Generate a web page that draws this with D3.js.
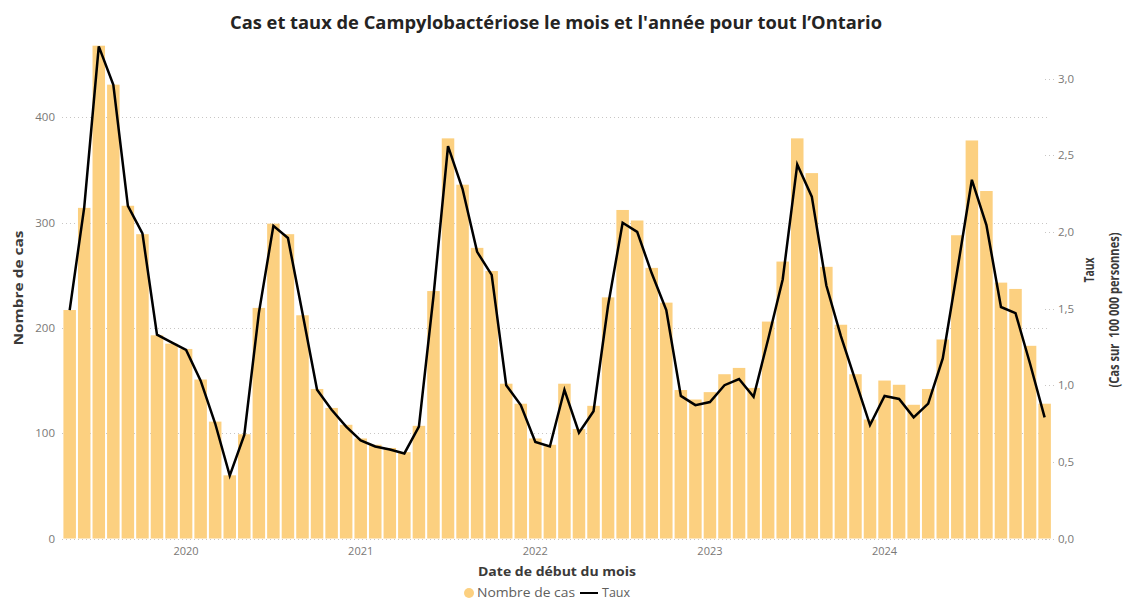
<!DOCTYPE html>
<html><head><meta charset="utf-8">
<script src="https://cdn.jsdelivr.net/npm/d3@7"></script>
<style>
body{margin:0;background:#fff;}
text{font-family:"Open Sans","Noto Sans",sans-serif;}
</style>
</head><body>
<svg id="chart" width="1124" height="601"></svg>
<script>
// ---- Data ----
const firstMonth = new Date(2019, 4, 1);   // May 2019
const endMonth = new Date(2025, 0, 1);     // exclusive (Dec 2024 last)
const months = d3.timeMonth.range(firstMonth, endMonth);

const cases = [217,314,468,431,316,289,193,185,180,151,
               111,60,99,219,299,289,212,142,124,108,
               95,89,86,82,107,235,380,336,276,254,
               147,128,95,89,147,104,126,229,312,302,
               257,224,141,132,139,156,162,143,206,263,
               380,347,258,203,156,113,150,146,127,142,
               189,288,378,330,243,237,183,128];

const rates = [1.49,2.16,3.21,2.96,2.17,1.99,1.33,1.28,1.23,1.03,
               0.75,0.41,0.675,1.47,2.04,1.96,1.47,0.97,0.84,0.73,
               0.64,0.60,0.58,0.555,0.73,1.58,2.56,2.28,1.87,1.72,
               1.00,0.87,0.63,0.60,0.97,0.69,0.83,1.52,2.06,2.00,
               1.73,1.49,0.93,0.87,0.89,1.00,1.04,0.925,1.30,1.69,
               2.44,2.23,1.65,1.32,1.03,0.74,0.93,0.91,0.79,0.88,
               1.175,1.75,2.34,2.045,1.51,1.47,1.14,0.79];

const leftTicks = [0,100,200,300,400];
const rightTicks = [0,0.5,1.0,1.5,2.0,2.5,3.0];
const yearTicks = [2020,2021,2022,2023,2024];

const title = "Cas et taux de Campylobactériose le mois et l'année pour tout l’Ontario";
const xTitle = "Date de début du mois";
const yLeftTitle = "Nombre de cas";
const yRightTitle1 = "Taux";
const yRightTitle2 = "(Cas sur  100 000 personnes)";
const legendLabels = ["Nombre de cas", "Taux"];

// ---- Styles ----
const barColor = "#FCD080";
const tickColor = "#7a7876";
const titleColor = "#252423";
const gridColor = "#c8c6c4";

const svg = d3.select("#chart");

const x = d3.scaleBand()
  .domain(d3.range(months.length))
  .range([62.4, 1051.9])
  .paddingInner(0.14)
  .paddingOuter(0.07);

const yL = d3.scaleLinear().domain([0, 500]).range([538.5, 12]);
const yR = d3.scaleLinear().domain([0, 3.2]).range([538.5, 538.5 - 3.2 * 153.3]);

// gridlines
svg.append("g").selectAll("line").data(leftTicks).join("line")
  .attr("x1", 62).attr("x2", 1050)
  .attr("y1", d => Math.round(yL(d)) + 0.5).attr("y2", d => Math.round(yL(d)) + 0.5)
  .attr("stroke", gridColor).attr("stroke-width", 1)
  .attr("stroke-dasharray", "1,3");

// right axis small tick dots
svg.append("g").selectAll("line").data(rightTicks).join("line")
  .attr("x1", 1045).attr("x2", 1054)
  .attr("y1", d => Math.round(yR(d)) + 0.5).attr("y2", d => Math.round(yR(d)) + 0.5)
  .attr("stroke", gridColor).attr("stroke-width", 1)
  .attr("stroke-dasharray", "1,3");

// bars
svg.append("g").selectAll("rect").data(cases).join("rect")
  .attr("x", (d, i) => x(i))
  .attr("width", x.bandwidth())
  .attr("y", d => yL(d))
  .attr("height", d => yL(0) - yL(d))
  .attr("fill", barColor);

// line
const line = d3.line()
  .x((d, i) => x(i) + x.bandwidth() / 2)
  .y(d => yR(d));
svg.append("path").datum(rates)
  .attr("d", line)
  .attr("fill", "none")
  .attr("stroke", "#000")
  .attr("stroke-width", 2.5)
  .attr("stroke-linejoin", "miter");

// left tick labels
svg.append("g").selectAll("text").data(leftTicks).join("text")
  .attr("x", 55).attr("y", d => yL(d) + 4)
  .attr("text-anchor", "end")
  .attr("font-size", 11.5).attr("fill", tickColor)
  .text(d => d);

// right tick labels
const fmtR = d => d.toFixed(1).replace(".", ",");
svg.append("g").selectAll("text").data(rightTicks).join("text")
  .attr("x", 1058).attr("y", d => yR(d) + 4)
  .attr("text-anchor", "start")
  .attr("font-size", 11.5).attr("fill", tickColor)
  .text(fmtR);

// year labels
svg.append("g").selectAll("text").data(yearTicks).join("text")
  .attr("x", yr => {
    const idx = months.findIndex(m => m.getFullYear() === yr && m.getMonth() === 0);
    return x(idx) + x.bandwidth() / 2;
  })
  .attr("y", 555)
  .attr("text-anchor", "middle")
  .attr("font-size", 11).attr("fill", tickColor)
  .text(d => d);

// title
svg.append("text")
  .attr("x", 556).attr("y", 29)
  .attr("text-anchor", "middle")
  .attr("font-size", 17).attr("font-weight", "bold")
  .attr("fill", titleColor)
  .attr("textLength", 652).attr("lengthAdjust", "spacingAndGlyphs")
  .text(title);

// x title
svg.append("text")
  .attr("x", 557).attr("y", 576)
  .attr("text-anchor", "middle")
  .attr("font-size", 13).attr("font-weight", "bold")
  .attr("fill", "#3b3a39")
  .attr("textLength", 158).attr("lengthAdjust", "spacingAndGlyphs")
  .text(xTitle);

// left y title
svg.append("text")
  .attr("transform", "translate(23,288) rotate(-90)")
  .attr("text-anchor", "middle")
  .attr("font-size", 13).attr("font-weight", "bold")
  .attr("fill", "#3b3a39")
  .attr("textLength", 115).attr("lengthAdjust", "spacingAndGlyphs")
  .text(yLeftTitle);

// right y titles
svg.append("text")
  .attr("transform", "translate(1094,270) rotate(-90)")
  .attr("text-anchor", "middle")
  .attr("font-size", 13.5).attr("font-weight", "bold")
  .attr("fill", "#3b3a39")
  .attr("textLength", 25).attr("lengthAdjust", "spacingAndGlyphs")
  .text(yRightTitle1);
svg.append("text")
  .attr("transform", "translate(1119,310) rotate(-90)")
  .attr("text-anchor", "middle")
  .attr("font-size", 13.5).attr("font-weight", "bold")
  .attr("fill", "#3b3a39")
  .attr("textLength", 155).attr("lengthAdjust", "spacingAndGlyphs")
  .attr("xml:space", "preserve")
  .text(yRightTitle2);

// legend
const lg = svg.append("g");
lg.append("circle").attr("cx", 469).attr("cy", 593).attr("r", 5).attr("fill", barColor);
lg.append("text").attr("x", 477).attr("y", 597)
  .attr("font-size", 12.5).attr("fill", "#605e5c")
  .attr("textLength", 98).attr("lengthAdjust", "spacingAndGlyphs")
  .text(legendLabels[0]);
lg.append("line").attr("x1", 580).attr("x2", 598).attr("y1", 593).attr("y2", 593)
  .attr("stroke", "#000").attr("stroke-width", 2);
lg.append("text").attr("x", 602).attr("y", 597)
  .attr("font-size", 12.5).attr("fill", "#605e5c")
  .text(legendLabels[1]);
</script>
</body></html>
